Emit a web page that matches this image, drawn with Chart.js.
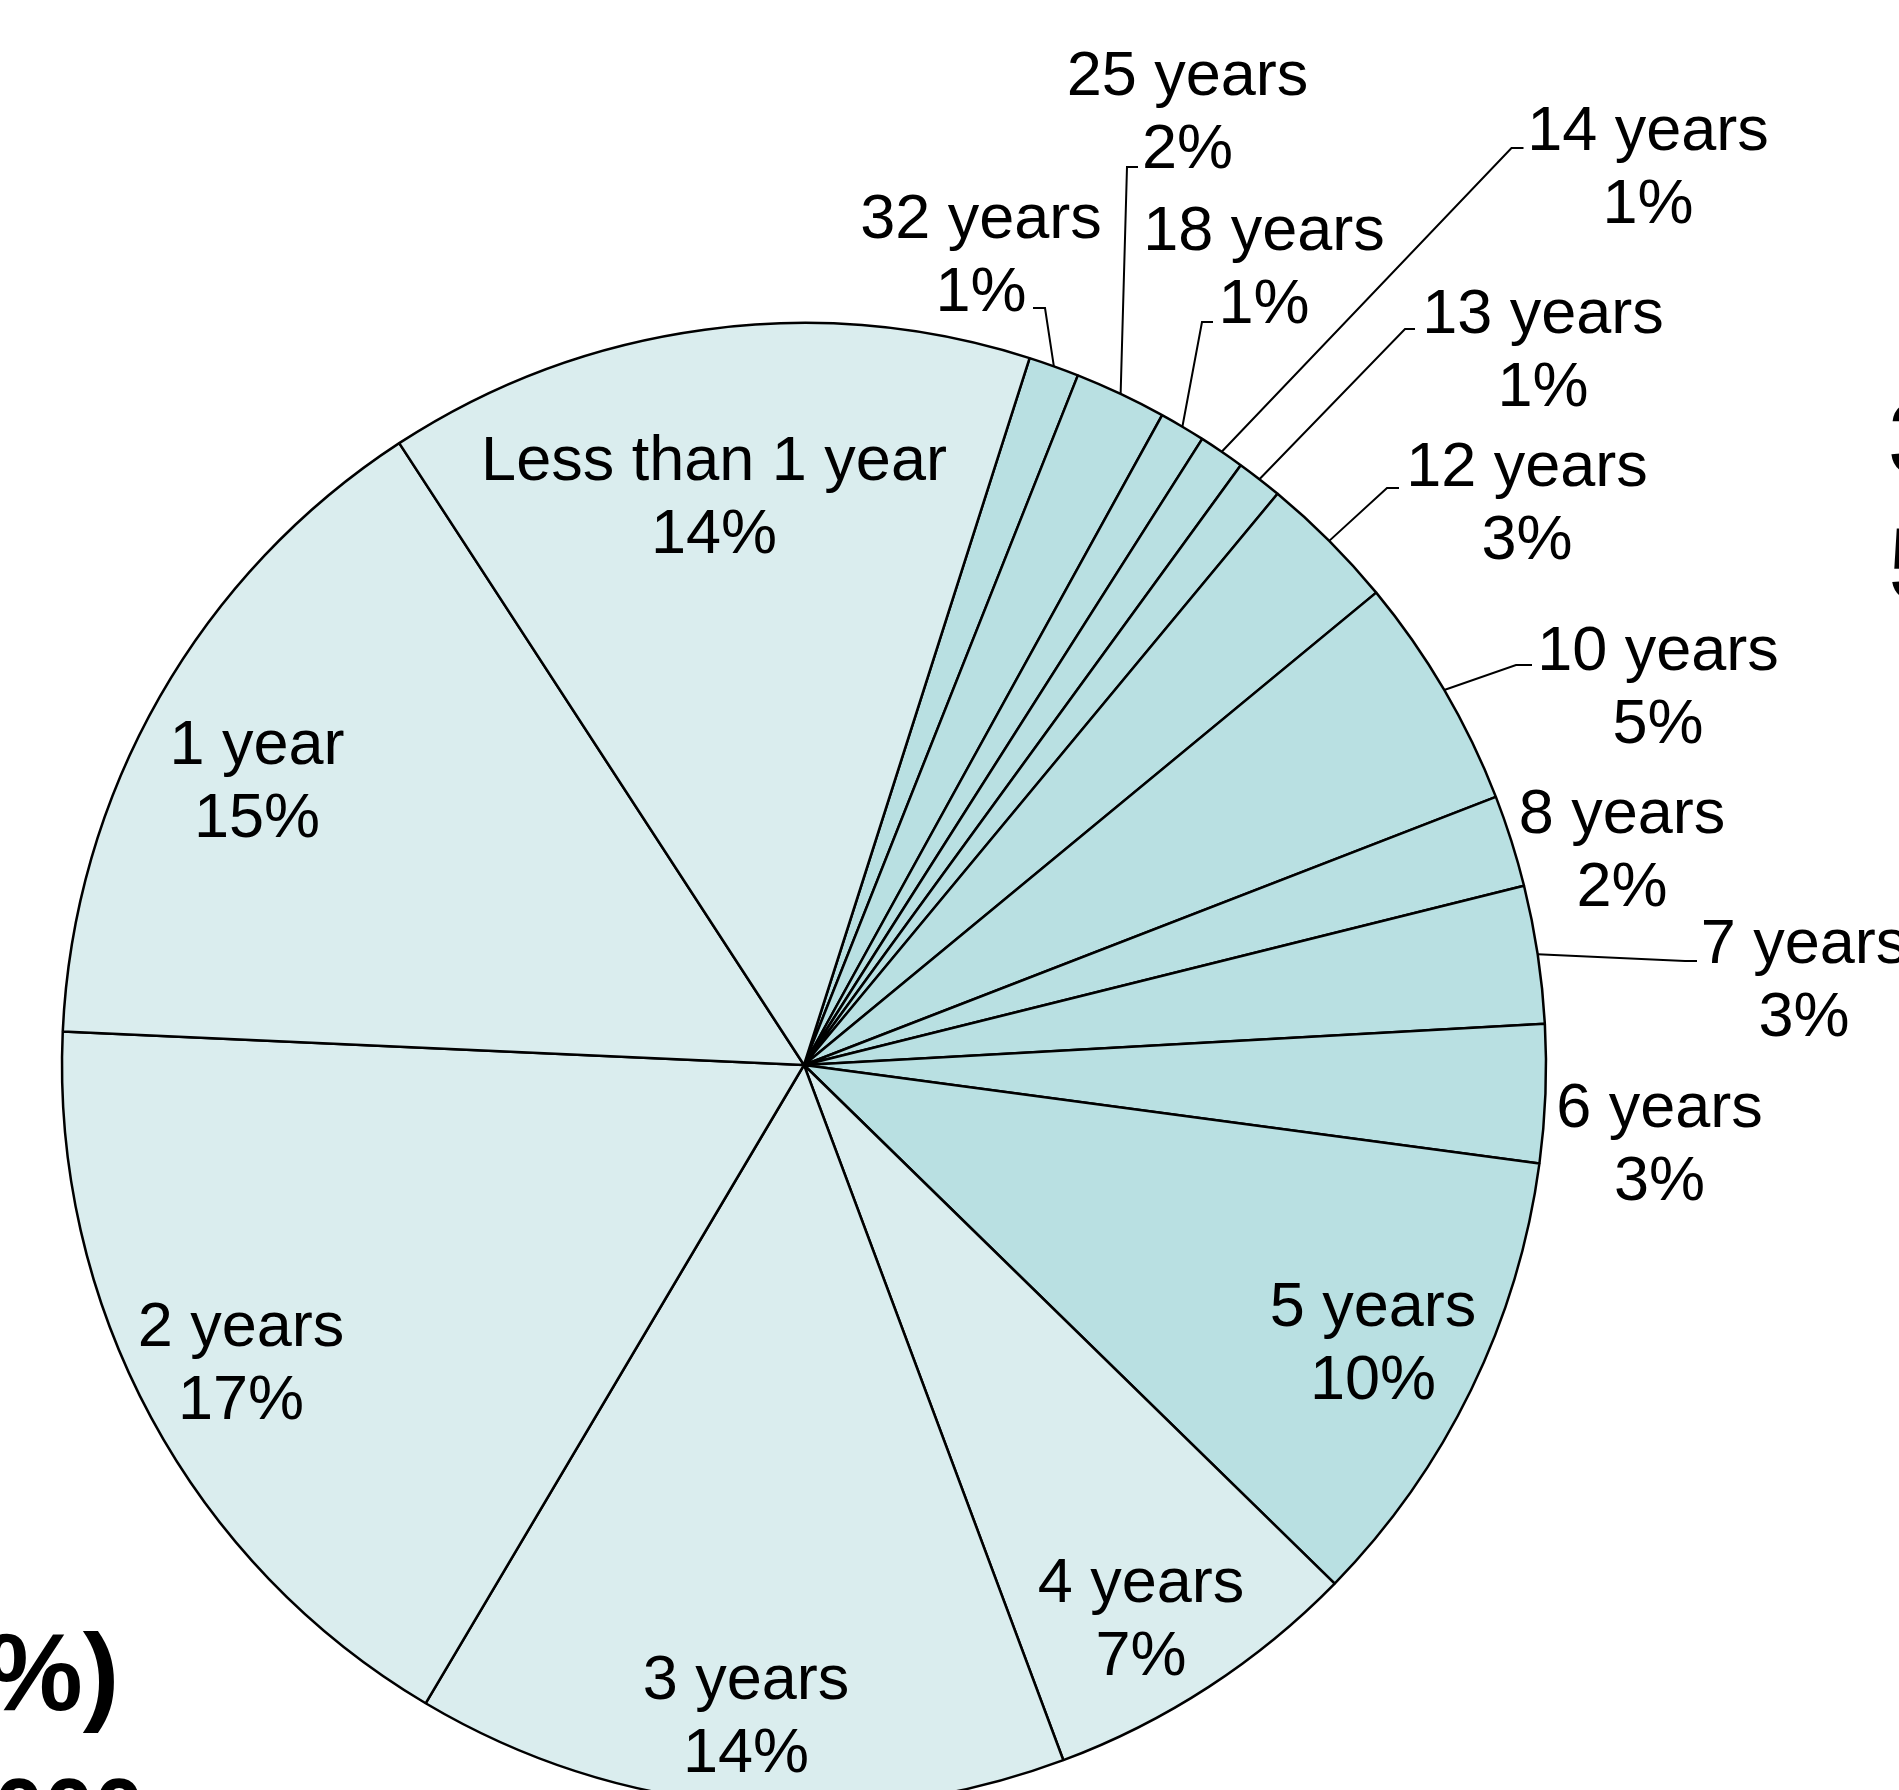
<!DOCTYPE html>
<html>
<head>
<meta charset="utf-8">
<script src="https://cdn.jsdelivr.net/npm/chart.js@4.4.1/dist/chart.umd.min.js"></script>
<style>
  html, body { margin: 0; padding: 0; background: #fff; overflow: hidden; }
  body { width: 1899px; height: 1790px; position: relative; }
  #wrap { position: absolute; left: 0; top: 0; width: 1899px; height: 2130px; }
  .frag { position: absolute; font-family: "Liberation Sans", Arial, sans-serif; font-weight: bold; color: #000; white-space: nowrap; line-height: 1; }
</style>
</head>
<body>
<div id="wrap"><canvas id="pie" width="1899" height="2130"></canvas></div>
<div class="frag" style="left:-15px; top:1617px; font-size:110px;">%)</div>
<div class="frag" style="left:-6px; top:1766px; font-size:90px;">000</div>
<div class="frag" style="left:1889px; top:386px; font-size:104px;">3</div>
<div class="frag" style="left:1889px; top:512px; font-size:104px;">5</div>
<script>
// slices go clockwise, starting a little right of 12 o'clock
const categories = ["32 years", "25 years", "18 years", "14 years", "13 years", "12 years",
  "10 years", "8 years", "7 years", "6 years", "5 years", "4 years", "3 years", "2 years",
  "1 year", "Less than 1 year"];
const shares = [1.1, 2.0, 1.0, 1.0, 1.0, 3.0, 5.1, 2.0, 3.0, 3.0, 10.2, 7.0, 14.2, 17.2, 15.1, 14.1];

const LIGHT = "#DAEDEE";
const DARK = "#B9E0E2";
const sliceColors = categories.map((c, i) => (i >= 11 ? LIGHT : DARK));

// label placement, px from pie centre: [x centre, first baseline], optional leader elbow + tick
const labelLayout = [
  { at: [177, -827], leader: [241, -757, -12] },
  { at: [383.5, -970], leader: [323, -898, 11] },
  { at: [460, -815], leader: [398, -743, 11] },
  { at: [844, -915], leader: [707.5, -917, 12] },
  { at: [739, -732], leader: [601, -736, 10] },
  { at: [723, -579], leader: [583, -577, 12] },
  { at: [854, -395], leader: [712, -400, 16] },
  { at: [818, -232] },
  { at: [1000, -102], leader: [881, -104, 12] },
  { at: [855.5, 62] },
  { at: [569, 261] },
  { at: [337, 537] },
  { at: [-58, 634] },
  { at: [-563, 281] },
  { at: [-547, -301] },
  { at: [-90, -585] },
];

const FONT = '63px "Liberation Sans", Arial, sans-serif';
const LINE = 73;

const pieLabels = {
  id: "pieLabels",
  afterDatasetsDraw(chart) {
    const ctx = chart.ctx;
    const meta = chart.getDatasetMeta(0);
    const total = shares.reduce((a, b) => a + b, 0);
    ctx.save();
    ctx.font = FONT;
    ctx.fillStyle = "#000";
    ctx.strokeStyle = "#000";
    ctx.lineWidth = 2;
    ctx.textAlign = "center";
    ctx.textBaseline = "alphabetic";
    meta.data.forEach((arc, i) => {
      const { x, y, startAngle, endAngle, outerRadius } = arc.getProps(["x", "y", "startAngle", "endAngle", "outerRadius"], true);
      const lay = labelLayout[i];
      const lx = x + lay.at[0];
      const ly = y + lay.at[1];
      const pct = Math.round((shares[i] / total) * 100) + "%";
      ctx.fillText(categories[i], lx, ly);
      ctx.fillText(pct, lx, ly + LINE);
      if (lay.leader) {
        const mid = (startAngle + endAngle) / 2;
        const ex = x + lay.leader[0];
        const ey = y + lay.leader[1];
        ctx.beginPath();
        ctx.moveTo(x + Math.cos(mid) * outerRadius, y + Math.sin(mid) * outerRadius);
        ctx.lineTo(ex, ey);
        ctx.lineTo(ex + lay.leader[2], ey);
        ctx.stroke();
      }
    });
    ctx.restore();
  },
};

new Chart(document.getElementById("pie"), {
  type: "pie",
  data: {
    labels: categories,
    datasets: [{
      data: shares,
      backgroundColor: sliceColors,
      borderColor: "#000",
      borderWidth: 2.5,
    }],
  },
  options: {
    responsive: false,
    animation: false,
    events: [],
    rotation: 17.7,
    radius: 742,
    layout: { padding: { left: 0, right: 291, top: 0, bottom: 0 } },
    plugins: {
      legend: { display: false },
      tooltip: { enabled: false },
    },
  },
  plugins: [pieLabels],
});
</script>
</body>
</html>
